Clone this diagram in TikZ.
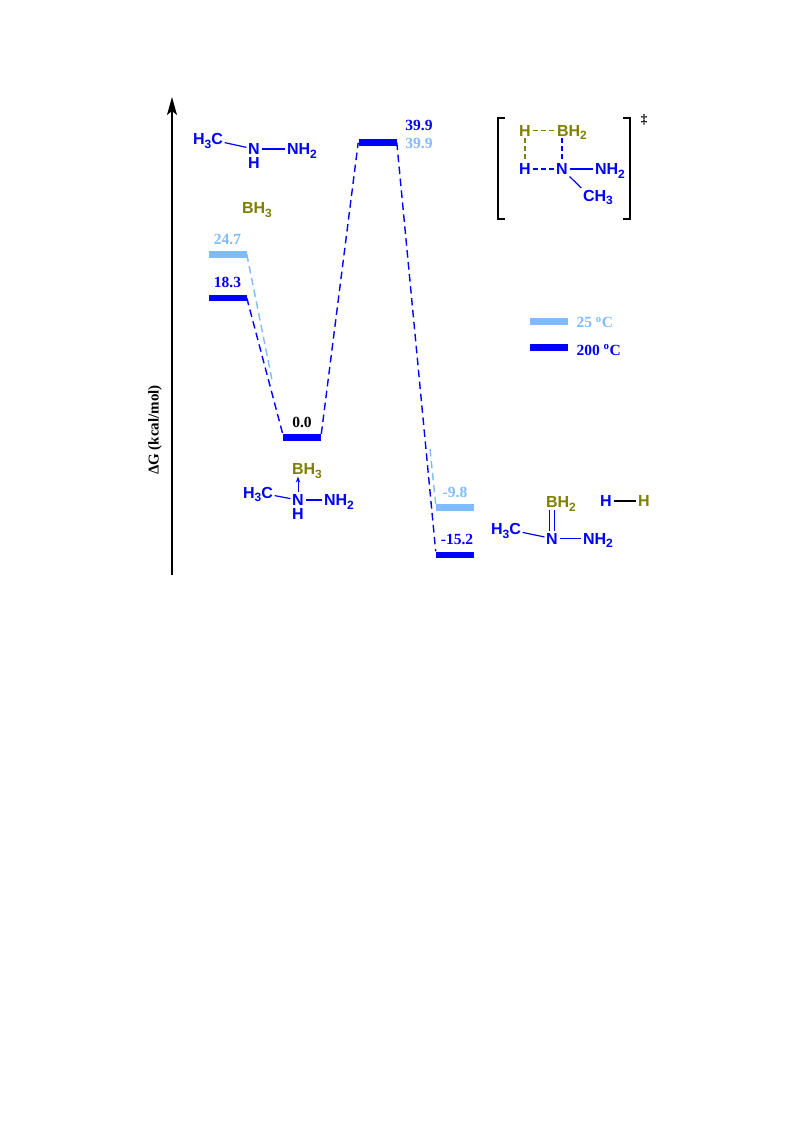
\documentclass[tikz,border=0pt]{standalone}
\usepackage{fontspec}
\setmainfont{Liberation Serif}
\newfontfamily\atomfont{Liberation Sans}
\usepackage{tikz}
\usetikzlibrary{arrows}
\usetikzlibrary{arrows.meta}
\usetikzlibrary{positioning}
\definecolor{lightline}{HTML}{80BBFF}
\definecolor{boronolive}{HTML}{808000}
\newcommand{\sbs}[1]{\raisebox{-3.5pt}{\fontsize{12}{12}\selectfont #1}}
\begin{document}
\begin{tikzpicture}[x=1pt,y=-1pt,semithick,node distance=5pt]
\tikzstyle{enlevel} = [rectangle, inner sep=0pt, minimum width=38pt, minimum height=6.6pt, fill=#1]
\tikzstyle{val} = [font=\bfseries\fontsize{15.5}{15.5}\selectfont, inner sep=1pt, text=#1]
\tikzstyle{atom} = [font=\atomfont\bfseries\fontsize{16}{16}\selectfont, inner sep=1.5pt, text height=11.5pt, text depth=0pt, text=#1]
\tikzstyle{profile} = [dash pattern=on 7.5pt off 4.5pt, line width=1.4pt, draw=#1]
\tikzstyle{bond} = [line width=1.2pt, draw=#1]
\tikzstyle{tsbond} = [dash pattern=on 5pt off 3pt, line width=1.3pt, draw=#1]
\useasboundingbox (0,0) rectangle (793,1121);

% axis
\coordinate (AXISBOT) at (172,575);
\coordinate (AXISTOP) at (172,97);
\draw[-{Stealth[length=18pt,width=10pt,inset=4pt]},line width=1.3pt] (AXISBOT) -- (AXISTOP);
\node[rotate=90,font=\bfseries\fontsize{15}{15}\selectfont] (AXISLABEL) at (155,430) {ΔG (kcal/mol)};

% energy levels
\node[enlevel=lightline] (LEVA) at (227.5,254.3) {};
\node[enlevel=blue] (LEVB) at (227.5,298) {};
\node[enlevel=blue] (LEVC) at (302,437.5) {};
\node[enlevel=blue] (LEVD) at (377.5,142.7) {};
\node[enlevel=lightline] (LEVE) at (455,507.5) {};
\node[enlevel=blue] (LEVF) at (455,555) {};
\coordinate (LIGHTA) at (272,380);
\coordinate (LIGHTB) at (430,449);

\node[val=lightline] (VALA) [above=of LEVA] {24.7};
\node[val=blue] (VALB) [above=of LEVB] {18.3};
\node[val=black] (VALC) [above=of LEVC] {0.0};
\node[val=blue] (VALDB) at (419,125) {39.9};
\node[val=lightline] (VALDL) at (419,143) {39.9};
\node[val=lightline] (VALE) [above=of LEVE] {-9.8};
\node[val=blue] (VALF) [above=of LEVF,xshift=2pt] {-15.2};

% legend
\node[enlevel=lightline] (LEGA) at (549,321.5) {};
\node[enlevel=blue] (LEGB) at (549,347.5) {};
\node[val=lightline] (LEGTA) [right=7pt of LEGA,yshift=-1pt] {25 \textsuperscript{o}C};
\node[val=blue] (LEGTB) [right=7pt of LEGB,yshift=-2.5pt] {200 \textsuperscript{o}C};

% reactants
\node[atom=blue] (RCH) at (208,139) {H\sbs{3}C};
\node[atom=blue] (RN) at (254,149) {N};
\node[atom=blue] (RH) at (254,163) {H};
\node[atom=blue] (RNH) at (302,149) {NH\sbs{2}};
\node[atom=boronolive] (RBH) at (257,208) {BH\sbs{3}};

% adduct
\node[atom=boronolive] (ABH) at (307,469) {BH\sbs{3}};
\node[atom=blue] (AN) at (298,500) {N};
\node[atom=blue] (AH) at (298,514) {H};
\node[atom=blue] (ACH) at (258,492.5) {H\sbs{3}C};
\node[atom=blue] (ANH) at (339,500) {NH\sbs{2}};

% transition state
\node[atom=boronolive] (TSHA) at (525,130.5) {H};
\node[atom=boronolive] (TSBH) at (572,130.5) {BH\sbs{2}};
\node[atom=blue] (TSHB) at (525,169) {H};
\node[atom=blue] (TSN) at (562,169) {N};
\node[atom=blue] (TSNH) at (610,169) {NH\sbs{2}};
\node[atom=blue] (TSCH) at (598,195.5) {CH\sbs{3}};
\node[font=\bfseries\fontsize{13}{13}\selectfont, inner sep=0pt] (TSMARK) at (644,120) {\textdaggerdbl};
\coordinate (BRLT) at (505,118);
\coordinate (BRLM) at (498,118);
\coordinate (BRLN) at (498,219);
\coordinate (BRLB) at (505,219);
\coordinate (BRRT) at (623,118);
\coordinate (BRRM) at (630,118);
\coordinate (BRRN) at (630,219);
\coordinate (BRRB) at (623,219);
\draw[line width=1.2pt] (BRLT) -- (BRLM) -- (BRLN) -- (BRLB);
\draw[line width=1.2pt] (BRRT) -- (BRRM) -- (BRRN) -- (BRRB);

% products
\node[atom=boronolive] (PBH) at (561,502) {BH\sbs{2}};
\node[atom=blue] (PN) at (552,538.5) {N};
\node[atom=blue] (PCH) at (506,529) {H\sbs{3}C};
\node[atom=blue] (PNH) at (598,538.5) {NH\sbs{2}};
\node[atom=blue] (PHA) at (606,501) {H};
\node[atom=boronolive] (PHB) at (644,501) {H};

% light profile only shows where it leaves the dark one
\path[draw,profile=lightline] (LEVA.east) -- (LIGHTA);
\path[draw,profile=lightline] (LIGHTB) -- (LEVE.north west);
\path[draw,profile=blue] (LEVB.east) -- (LEVC.north west);
\path[draw,profile=blue] (LEVC.north east) -- (LEVD.west);
\path[draw,profile=blue] (LEVD.east) -- (LEVF.north west);

\path[draw,bond=blue] (RCH) -- (RN);
\path[draw,bond=blue] (RN) -- (RNH.west |- RN);
\path[draw,bond=blue] (ACH) -- (AN);
\path[draw,bond=blue] (AN) -- (ANH.west |- AN);
\path[draw,blue,line width=0.9pt,-{Stealth[length=6pt,width=4.5pt]}] (AN) -- (AN |- ABH.south);
\path[draw,bond=blue] (PCH) -- (PN);
\path[draw,bond=blue] (PN) -- (PNH.west |- PN);
\path[draw,bond=blue] ([xshift=-2.5pt]PN.north) -- ([xshift=-2.5pt]PN.north |- PBH.south);
\path[draw,bond=blue] ([xshift=2.5pt]PN.north) -- ([xshift=2.5pt]PN.north |- PBH.south);
\path[draw,bond=black] (PHA) -- (PHB);

\path[draw,tsbond=boronolive] (TSHA) -- (TSBH.west |- TSHA);
\path[draw,tsbond=boronolive] (TSHA) -- (TSHB);
\path[draw,tsbond=blue] (TSHB) -- (TSN);
\path[draw,tsbond=blue] (TSN |- TSBH.south) -- (TSN);
\path[draw,bond=blue] (TSN) -- (TSNH.west |- TSN);
\path[draw,bond=blue] (TSN.south east) -- (TSCH.north west);
\end{tikzpicture}
\end{document}
